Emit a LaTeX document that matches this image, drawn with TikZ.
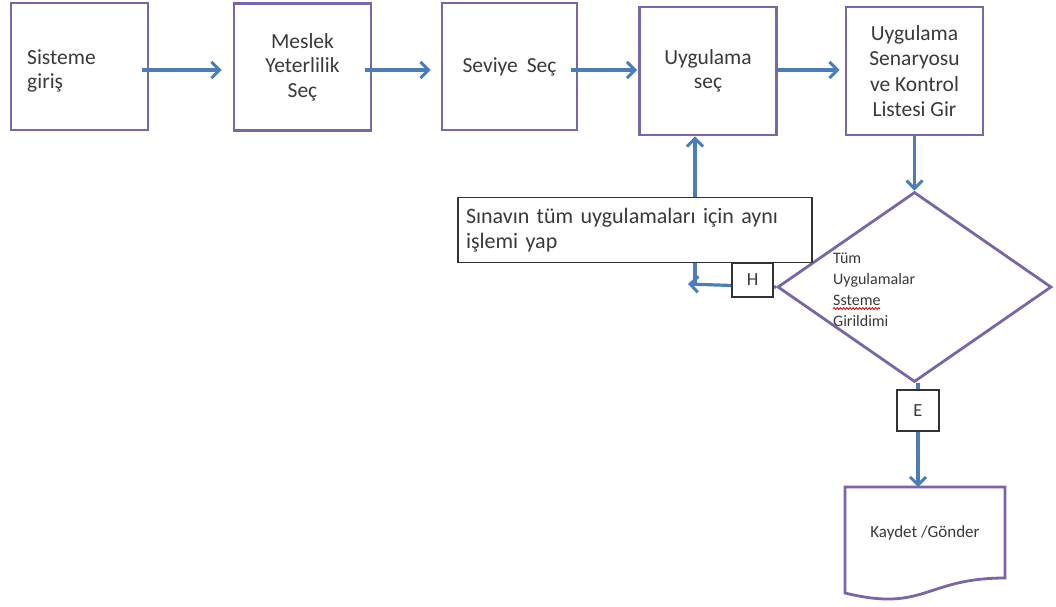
\documentclass[tikz,border=0pt]{standalone}
\usepackage{fontspec}
\setmainfont{Carlito}
\usetikzlibrary{arrows.meta,shapes.geometric,decorations.pathmorphing}

\definecolor{boxline}{HTML}{7B65AA}
\definecolor{flow}{HTML}{4A7DBA}
\definecolor{ink}{HTML}{3A3A3A}
\definecolor{tagline}{HTML}{333333}

\begin{document}
\begin{tikzpicture}[x=1pt,y=-1pt,
  stepbox/.style={draw=boxline, line width=2.8pt, fill=white, text=ink,
    inner sep=0pt, minimum width=137pt, minimum height=127pt,
    align=center, font=\fontsize{21.5}{24.5}\selectfont},
  flowarrow/.style={draw=flow, line width=3.2pt,
    -{Straight Barb[length=8pt,width=16pt,line width=3pt]}},
  notebox/.style={draw=tagline, line width=1.5pt, fill=white, text=ink,
    inner sep=0pt, font=\fontsize{22}{25}\selectfont},
  tagbox/.style={notebox, font=\fontsize{18.5}{20}\selectfont},
  smalltext/.style={text=ink, inner sep=0pt, align=left,
    font=\fontsize{16}{21}\selectfont}
]
\useasboundingbox (0,0) rectangle (1056,606);

% process boxes along the top row
\node[stepbox] (b1) at (79.5,66.5) {};
\node[text=ink, inner sep=0pt, align=left, anchor=west,
      font=\fontsize{21.5}{24.5}\selectfont] (b1text) at (27,71) {Sisteme\\giriş};
\node[stepbox] (b2) at (302.5,67) {Meslek\\Yeterlilik\\Seç};
\node[stepbox, minimum width=135pt] (b3) at (509.5,66.5) {Seviye\hspace{4pt} Seç};
\node[stepbox, minimum height=128pt] (b4) at (708,71) {Uygulama\\seç};
\node[stepbox, minimum height=128pt, font=\fontsize{21.5}{25.5}\selectfont] (b5) at (914.5,71) {Uygulama\\Senaryosu\\ve Kontrol\\Listesi Gir};

% decision
\node[draw=boxline, line width=2.8pt, fill=white, shape=diamond, inner sep=0pt,
      minimum width=274pt, minimum height=190pt] (dia) at (914.5,287) {};
\node[smalltext, anchor=north west] (diatext) at (833,253) {Tüm\\Uygulamalar\\Ssteme\\Girildimi};
\draw[red!85!black, line width=0.8pt, decorate,
      decoration={snake, amplitude=1pt, segment length=3.2pt}]
      (833,308.5) -- (880,308.5);

% output document
\draw[boxline, line width=2.8pt, fill=white]
  (845,487) -- (1005,487) -- (1005,578)
  .. controls (925,578) and (925,612.6) .. (845,593) -- cycle;
\node[text=ink, font=\fontsize{17}{20}\selectfont] (doc) at (925,533) {Kaydet /Gönder};
\coordinate (doctop) at (918,487);

% connectors along the top row
\coordinate (lane) at (0,70);
\draw[flowarrow, shorten <=-7pt, shorten >=11pt] (b1.east |- lane) -- (b2.west |- lane);
\draw[flowarrow, shorten <=-7pt, shorten >=10pt] (b2.east |- lane) -- (b3.west |- lane);
\draw[flowarrow, shorten <=-7pt, shorten >=1pt] (b3.east |- lane) -- (b4.west |- lane);
\draw[flowarrow, shorten >=5pt] (b4.east |- lane) -- (b5.west |- lane);
\draw[flowarrow] (b5.south) -- (dia.north);

% "no" branch back to the selection step
\coordinate (hend) at (688,284);
\coordinate (hturn) at (695,284);
\draw[flowarrow] (dia.west) -- (hend);
\draw[flowarrow] (hturn) -- (hturn |- b4.south);

% "yes" branch to the output document
\draw[flowarrow] (dia.south -| doctop) -- (doctop);

% note and branch labels
\node[notebox, minimum width=354pt, minimum height=65pt, text width=338pt,
      inner xsep=8pt, align=left] (note) at (635,230)
      {Sınavın tüm uygulamaları için aynı\\işlemi yap};
\node[tagbox, minimum width=41pt, minimum height=34pt] (h) at (752.5,280) {H};
\node[tagbox, minimum width=42pt, minimum height=41pt] (e) at (918,410.5) {E};
\end{tikzpicture}
\end{document}
